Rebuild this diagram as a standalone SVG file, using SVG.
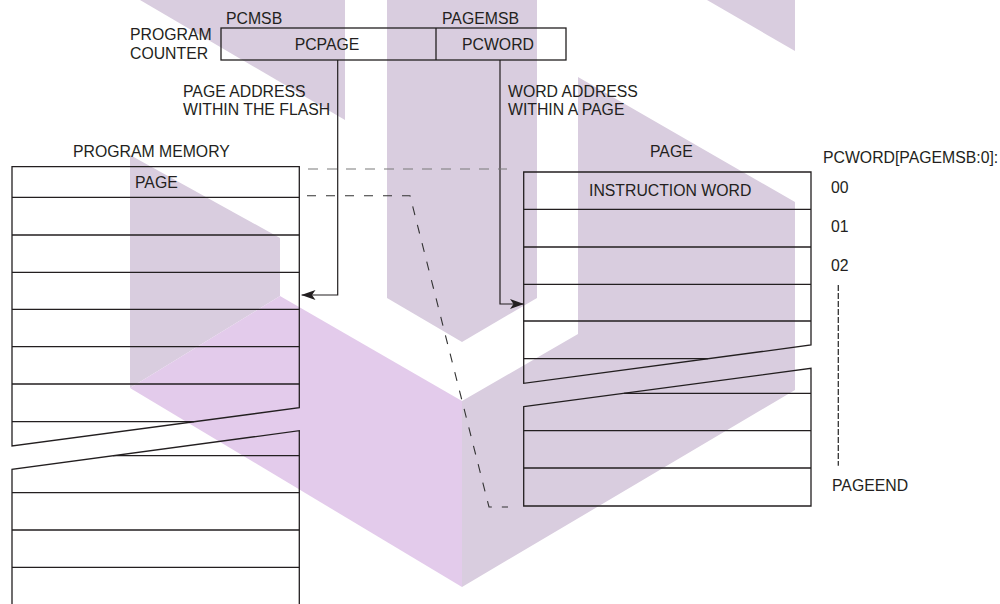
<svg xmlns="http://www.w3.org/2000/svg" width="1000" height="604" viewBox="0 0 1000 604">
  <style>
    .wm-grey { fill: #d9cddf; }
    .wm-pink { fill: #e3cbeb; }
    .box { fill: none; stroke: #231f20; stroke-width: 1.3; }
    .row { stroke: #231f20; stroke-width: 1.3; fill: none; }
    .lbl { font-family: "Liberation Sans", Arial, sans-serif; font-size: 15.8px; fill: #231f20; }
    .conn { fill: none; stroke: #231f20; stroke-width: 1.2; }
    .dash-light { fill: none; stroke: #7a7a7a; stroke-width: 1.1; stroke-dasharray: 10 9; }
    .dash-dark { fill: none; stroke: #333333; stroke-width: 1.1; stroke-dasharray: 9 10; }
    .dash-fine { fill: none; stroke: #333333; stroke-width: 1.3; stroke-dasharray: 6 2; }
  </style>
  <defs>
    <marker id="arrow" viewBox="0 0 14 10" refX="14" refY="5" markerWidth="14" markerHeight="10" markerUnits="userSpaceOnUse" orient="auto">
      <path d="M0,0 L14,5 L0,10 L3.5,5 Z" fill="#231f20"/>
    </marker>
  </defs>
  <rect width="1000" height="604" fill="#ffffff"/>

  <g id="watermark">
    <polygon class="wm-grey" points="140,0 345,0 345,120"/>
    <polygon class="wm-grey" points="707,0 795,0 795,51"/>
    <polygon class="wm-grey" points="130,155 280,238 280,296 130,388"/>
    <polygon class="wm-grey" points="387,0 537,0 537,298 462,342 387,298"/>
    <polygon class="wm-grey" points="462,401 578,334 578,77 795,202 795,390 462,587"/>
    <polygon class="wm-pink" points="130,388 280,296 462,401 462,587"/>
  </g>

  <g id="program-counter">
    <rect class="box" x="221" y="28" width="345" height="32"/>
    <line class="row" x1="436" y1="28" x2="436" y2="60"/>
    <text class="lbl" x="226" y="24">PCMSB</text>
    <text class="lbl" x="442" y="24">PAGEMSB</text>
    <text class="lbl" x="130" y="40">PROGRAM</text>
    <text class="lbl" x="130" y="59">COUNTER</text>
    <text class="lbl" x="327" y="50" text-anchor="middle">PCPAGE</text>
    <text class="lbl" x="462" y="50">PCWORD</text>
  </g>

  <g id="program-memory">
    <text class="lbl" x="73" y="157">PROGRAM MEMORY</text>
    <path class="box" d="M12,166.7 H299.3 V407.7 L12,446 Z"/>
    <path class="row" d="M12,197.3 H299.3 M12,235 H299.3 M12,272.3 H299.3 M12,309.3 H299.3 M12,346.7 H299.3 M12,384 H299.3 M12,421.7 H194"/>
    <path class="box" d="M12,604 V469.3 L299.3,430.7 V604"/>
    <path class="row" d="M113,455.7 H299.3 M12,492.7 H299.3 M12,530 H299.3 M12,567.3 H299.3"/>
    <text class="lbl" x="135" y="188">PAGE</text>
  </g>

  <g id="page">
    <text class="lbl" x="650" y="157">PAGE</text>
    <path class="box" d="M523.7,172 H811 V345 L523.7,383.3 Z"/>
    <path class="row" d="M523.7,209.3 H811 M523.7,247 H811 M523.7,284.3 H811 M523.7,321 H811 M523.7,358.7 H708"/>
    <path class="box" d="M523.7,406.7 L811,368.3 V506 H523.7 Z"/>
    <path class="row" d="M624,393.3 H811 M523.7,430.7 H811 M523.7,468 H811"/>
    <text class="lbl" x="589" y="196">INSTRUCTION WORD</text>
  </g>

  <g id="word-index">
    <text class="lbl" x="823" y="163">PCWORD[PAGEMSB:0]:</text>
    <text class="lbl" x="831" y="193">00</text>
    <text class="lbl" x="831" y="232">01</text>
    <text class="lbl" x="831" y="271">02</text>
    <path class="dash-fine" d="M838.3,285 V465.7"/>
    <text class="lbl" x="832" y="491">PAGEEND</text>
  </g>

  <g id="address-labels">
    <text class="lbl" x="183" y="97">PAGE ADDRESS</text>
    <text class="lbl" x="183" y="115">WITHIN THE FLASH</text>
    <text class="lbl" x="508" y="97">WORD ADDRESS</text>
    <text class="lbl" x="508" y="115">WITHIN A PAGE</text>
  </g>

  <g id="connectors">
    <path class="conn" d="M337.7,60 V295 H301.5" marker-end="url(#arrow)"/>
    <path class="conn" d="M500,60 V304 H524" marker-end="url(#arrow)"/>
    <path class="dash-light" d="M308,169 H507"/>
    <path class="dash-dark" d="M307,195.7 H410 L489,507 H508"/>
  </g>
</svg>
